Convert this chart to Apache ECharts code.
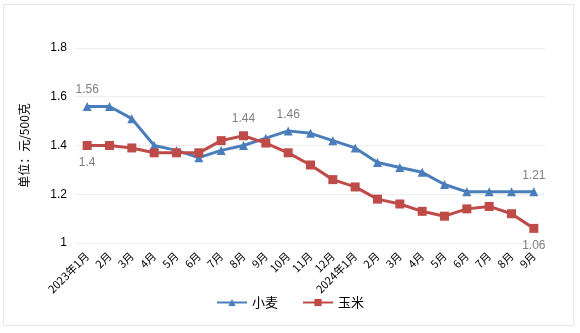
<!DOCTYPE html>
<html><head><meta charset="utf-8">
<script src="https://cdn.jsdelivr.net/npm/echarts@6/dist/echarts.min.js"></script>
<style>html,body{margin:0;padding:0;background:#fff}#c{width:580px;height:333px}</style>
</head><body><div id="c"></div>
<script>
const categories = ['2023年1月','2月','3月','4月','5月','6月','7月','8月','9月','10月','11月','12月','2024年1月','2月','3月','4月','5月','6月','7月','8月','9月'];
const wheat = [1.56,1.56,1.51,1.40,1.38,1.35,1.38,1.40,1.43,1.46,1.45,1.42,1.39,1.33,1.31,1.29,1.24,1.21,1.21,1.21,1.21];
const corn = [1.40,1.40,1.39,1.37,1.37,1.37,1.42,1.44,1.41,1.37,1.32,1.26,1.23,1.18,1.16,1.13,1.11,1.14,1.15,1.12,1.06];
const wheatLabelIdx = [0, 9, 20];
const cornLabelIdx = [0, 7, 20];
const cornLabelPos = {0: 'bottom', 7: 'top', 20: 'bottom'};
const yTicks = [1, 1.2, 1.4, 1.6, 1.8];

const lblStyle = {color:'#7f7f7f', fontSize:12, fontFamily:'Liberation Sans, Arial, sans-serif'};
const chart = echarts.init(document.getElementById('c'), null, {renderer:'canvas'});
chart.setOption({
  animation:false,
  backgroundColor:'#fff',
  graphic:[{type:'rect', shape:{x:3.5,y:4.5,width:570,height:321}, style:{fill:'none', stroke:'#e6e6e6', lineWidth:1}, silent:true}],
  grid:{left:76, right:35, top:48, bottom:90, containLabel:false},
  legend:{bottom:19, left:'center', itemWidth:30, itemHeight:9, itemGap:24,
    textStyle:{fontSize:13, color:'#000', fontFamily:'Noto Sans CJK SC, sans-serif'},
    data:['小麦','玉米']},
  xAxis:{type:'category', data:categories, boundaryGap:true,
    axisLine:{show:false}, axisTick:{show:false},
    axisLabel:{rotate:45, interval:0, fontSize:11, color:'#000', margin:11, fontFamily:'Noto Sans CJK SC, sans-serif'}},
  yAxis:{type:'value', min:1, max:1.8, interval:0.2,
    name:'单位：元/500克', nameLocation:'middle', nameGap:46, nameRotate:90,
    nameTextStyle:{fontSize:12, color:'#000', fontFamily:'Noto Sans CJK SC, sans-serif'},
    axisLine:{show:false}, axisTick:{show:false},
    axisLabel:{fontSize:12, color:'#000', margin:9, fontFamily:'Liberation Sans, Arial, sans-serif',
      formatter: v => { const t = yTicks.find(x => Math.abs(x - v) < 1e-9); return t === undefined ? '' : String(t); }},
    splitLine:{lineStyle:{color:'#eeeeee', width:1}}},
  series:[
    {name:'小麦', type:'line', data:wheat.map((v,i)=>({value:v, label:{show:wheatLabelIdx.includes(i), position:'top', distance:6}})),
      symbol:'triangle', symbolSize:9, lineStyle:{color:'#4a7ebb', width:3}, itemStyle:{color:'#4a7ebb'},
      label:Object.assign({formatter:p=>String(p.value)}, lblStyle)},
    {name:'玉米', type:'line', data:corn.map((v,i)=>({value:v, label:{show:cornLabelIdx.includes(i), position:cornLabelPos[i]||'top', distance:7}})),
      symbol:'rect', symbolSize:9, lineStyle:{color:'#be4b48', width:3}, itemStyle:{color:'#be4b48'},
      label:Object.assign({formatter:p=>String(p.value)}, lblStyle)}
  ]
});
</script></body></html>
